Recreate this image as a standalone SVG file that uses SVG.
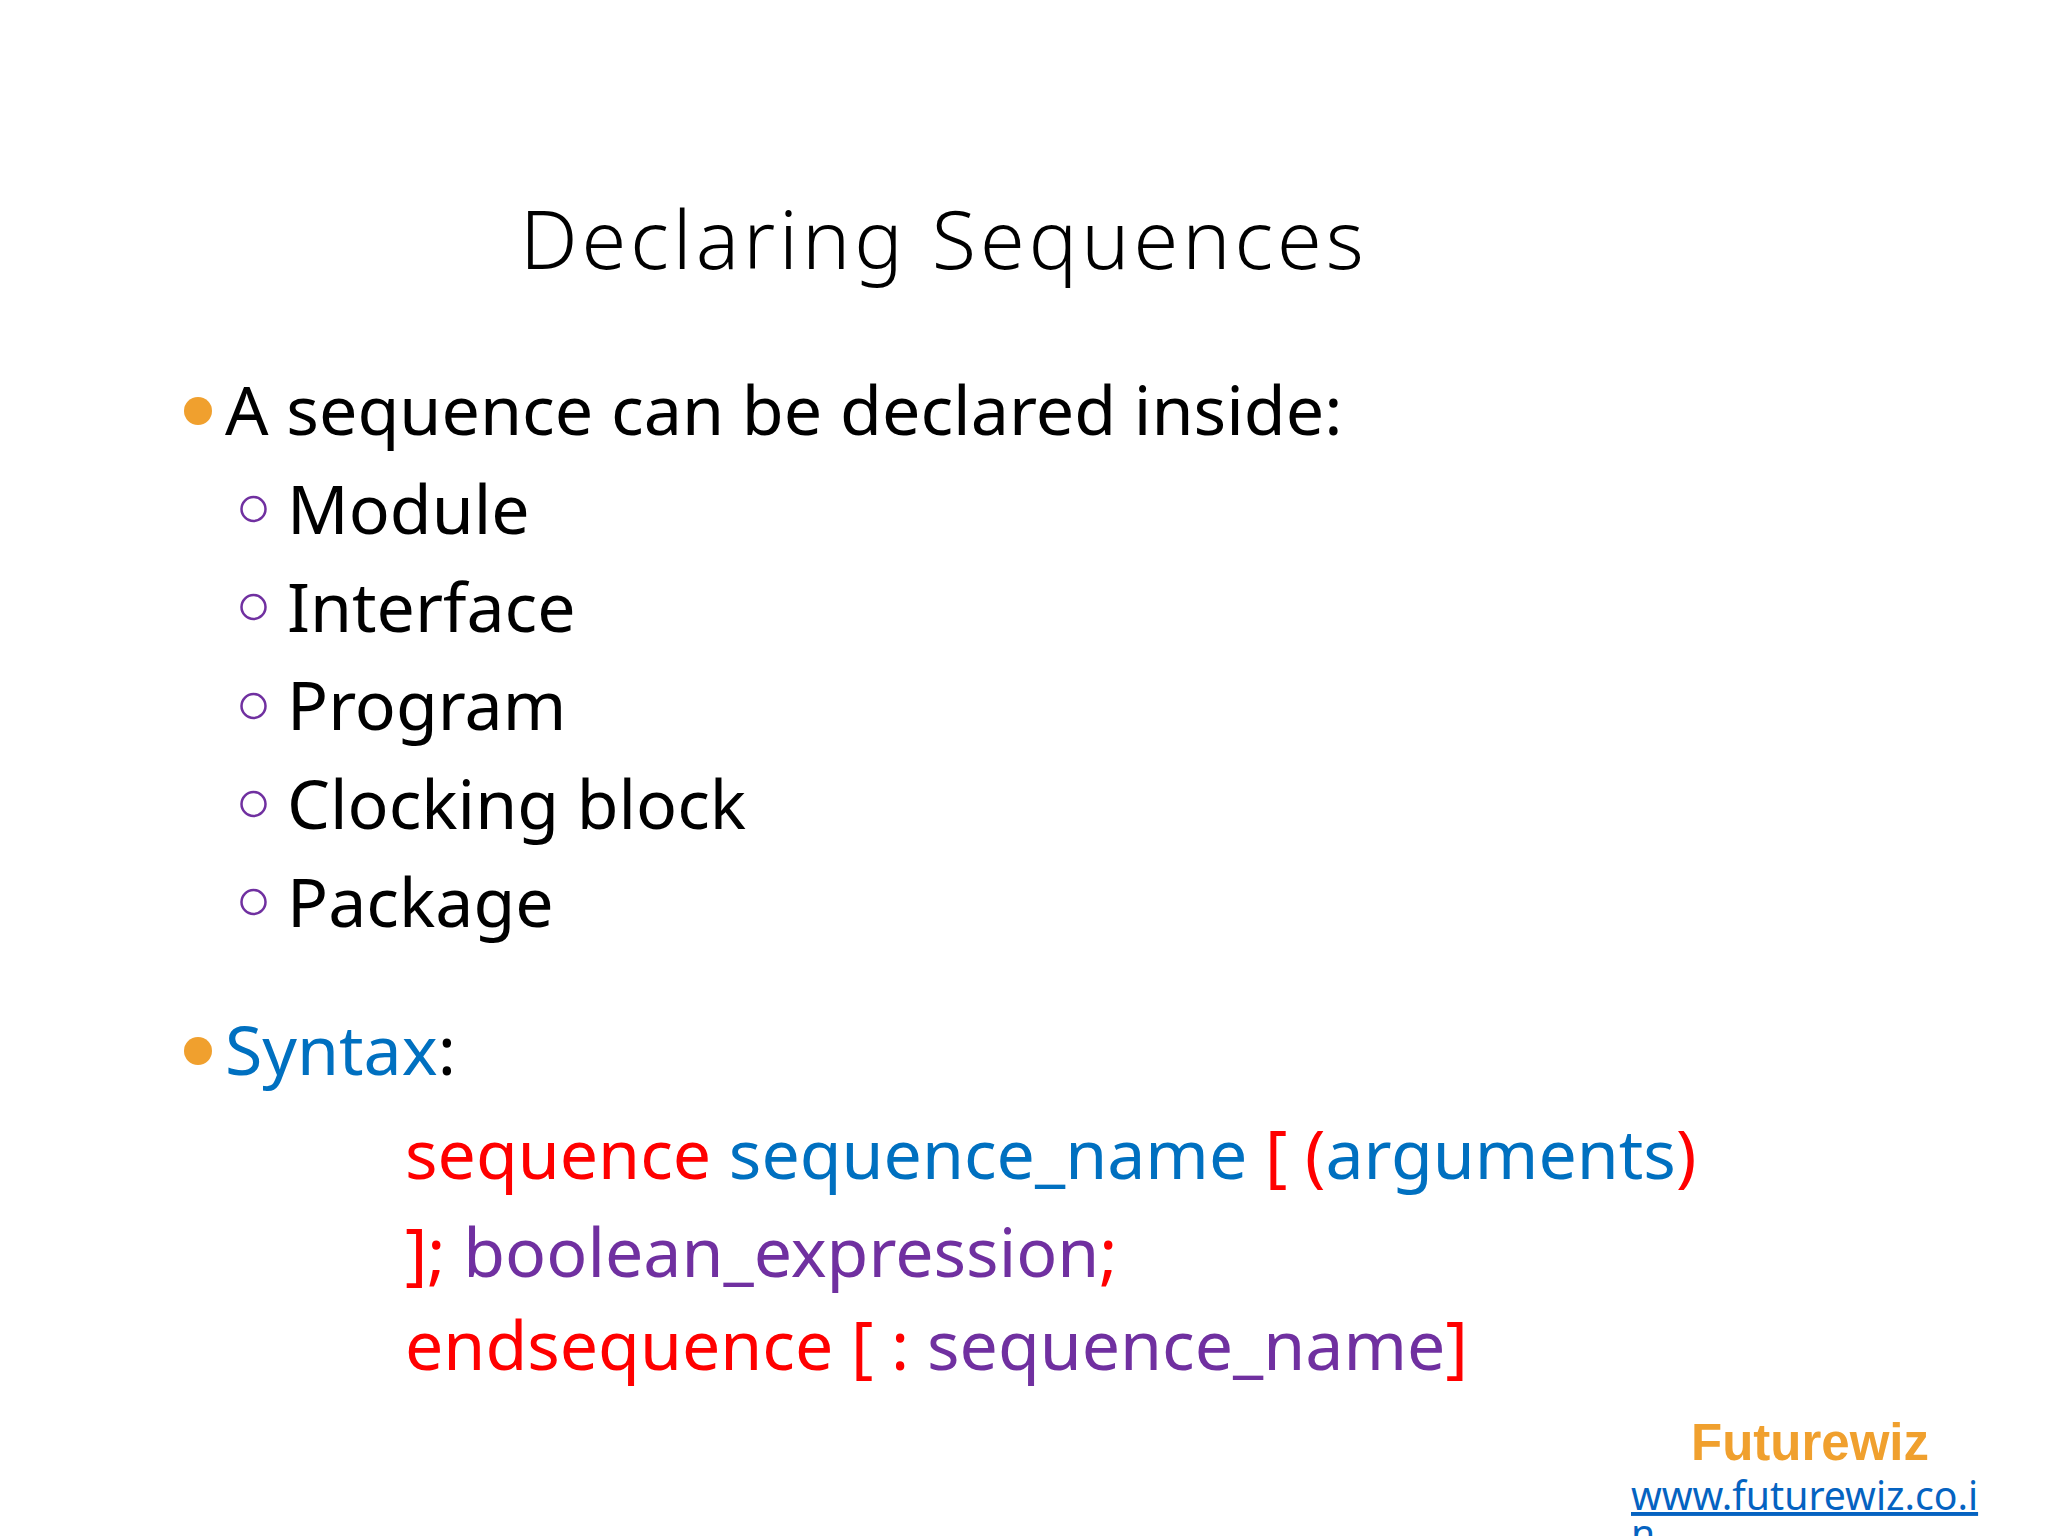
<svg xmlns="http://www.w3.org/2000/svg" width="2048" height="1536" viewBox="0 0 2048 1536">
<style>
text{font-family:"Noto Sans","Open Sans",sans-serif;font-size:68px;fill:#000}
.r{fill:#f00}.b{fill:#0070c0}.p{fill:#7030a0}
.d{fill:#f0a02e}.o{fill:none;stroke:#7030a0;stroke-width:2.5}
</style>
<rect width="2048" height="1536" fill="#fff"/>
<text x="520" y="269" style="font-family:'Noto Sans',sans-serif;font-size:81px;font-weight:300;letter-spacing:4px">Declaring Sequences</text>
<circle class="d" cx="198" cy="411" r="14"/>
<text x="225" y="435" style="font-size:68.2px">A sequence can be declared inside:</text>
<circle class="o" cx="253.500" cy="509" r="12"/><text x="287" y="534">Module</text>
<circle class="o" cx="253.500" cy="607" r="12"/><text x="287" y="632">Interface</text>
<circle class="o" cx="253.500" cy="706" r="12"/><text x="287" y="730">Program</text>
<circle class="o" cx="253.500" cy="804" r="12"/><text x="287" y="829">Clocking block</text>
<circle class="o" cx="253.500" cy="902" r="12"/><text x="287" y="927">Package</text>
<circle class="d" cx="198" cy="1051" r="14"/>
<text x="225" y="1075"><tspan class="b">Syntax</tspan>:</text>
<text x="405" y="1179" class="r">sequence <tspan class="b">sequence_name</tspan> [ (<tspan class="b">arguments</tspan>)</text>
<text x="405" y="1277" class="r">]; <tspan class="p">boolean_expression</tspan>;</text>
<text x="405" y="1370" class="r">endsequence [ : <tspan class="p">sequence_name</tspan>]</text>
<text x="1691" y="1460" style="font-family:'Liberation Sans',sans-serif;font-size:51px;font-weight:700;fill:#f0a02e">Futurewiz</text>
<text x="1631" y="1510" style="font-size:39.2px;fill:#0563c1;text-decoration:underline">www.futurewiz.co.i</text>
<text x="1631" y="1548" style="font-size:39.2px;fill:#0563c1;text-decoration:underline">n</text>
</svg>
